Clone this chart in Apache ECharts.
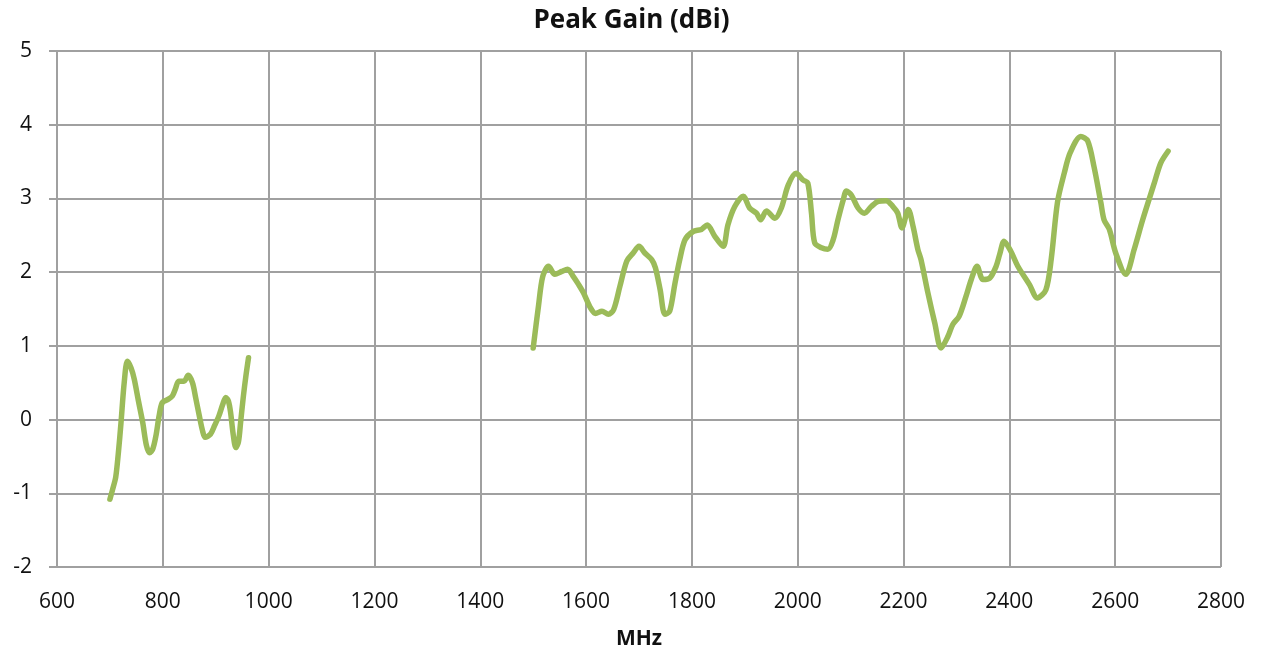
<!DOCTYPE html>
<html>
<head>
<meta charset="utf-8">
<script src="https://cdn.jsdelivr.net/npm/echarts@6/dist/echarts.min.js"></script>
<style>
  html, body { margin: 0; padding: 0; background: #fff; }
  #main { width: 1263px; height: 655px; }
</style>
</head>
<body>
<div id="main"></div>
<script>
// low band, 700-960 MHz
var lowFreq = [700, 705, 711, 716, 721, 727, 733, 740, 746, 754, 762, 769, 775, 781, 787, 793, 799, 809, 818, 824,
  830, 840, 848, 856, 862, 869, 875, 880, 890, 898, 906, 913, 919, 924, 928, 933, 938, 943, 947, 952, 957, 962];
var lowGain = [-1.08, -0.95, -0.78, -0.45, -0.04, 0.5, 0.79, 0.7, 0.55, 0.25, -0.04, -0.35, -0.45, -0.4, -0.22, 0.05, 0.23, 0.27, 0.32, 0.42,
  0.52, 0.52, 0.6, 0.5, 0.3, 0.05, -0.15, -0.24, -0.2, -0.08, 0.05, 0.2, 0.3, 0.25, 0.1, -0.2, -0.38, -0.3, -0.04, 0.3, 0.59, 0.84];

// high band, 1500-2700 MHz
var highFreq = [1500, 1510, 1518, 1529, 1541, 1554, 1565, 1576, 1586, 1595, 1608, 1618, 1630, 1642, 1652, 1664, 1677, 1689, 1700, 1711,
  1724, 1731, 1740, 1749, 1758, 1768, 1777, 1787, 1802, 1818, 1829, 1843, 1859, 1868, 1881, 1897, 1909, 1922, 1930, 1941,
  1957, 1969, 1982, 1997, 2010, 2019, 2026, 2032, 2045, 2057, 2067, 2076, 2086, 2092, 2101, 2114, 2126, 2139, 2152, 2167,
  2180, 2189, 2197, 2209, 2218, 2227, 2233, 2246, 2259, 2271, 2284, 2293, 2305, 2318, 2328, 2339, 2350, 2363, 2375, 2382,
  2390, 2403, 2416, 2438, 2453, 2469, 2479, 2491, 2504, 2515, 2535, 2548, 2560, 2573, 2579, 2589, 2601, 2620, 2636, 2652,
  2674, 2686, 2700];
var highGain = [0.97, 1.54, 1.94, 2.08, 1.97, 2.01, 2.04, 1.94, 1.83, 1.72, 1.52, 1.44, 1.47, 1.43, 1.49, 1.81, 2.15, 2.26, 2.35, 2.26,
  2.17, 2.06, 1.76, 1.43, 1.47, 1.85, 2.17, 2.44, 2.55, 2.58, 2.64, 2.49, 2.35, 2.64, 2.89, 3.03, 2.87, 2.8, 2.71, 2.83,
  2.73, 2.87, 3.18, 3.34, 3.25, 3.21, 2.8, 2.4, 2.33, 2.31, 2.44, 2.71, 2.98, 3.1, 3.05, 2.87, 2.8, 2.89, 2.96, 2.97,
  2.89, 2.8, 2.6, 2.85, 2.62, 2.31, 2.17, 1.72, 1.31, 0.97, 1.13, 1.29, 1.4, 1.67, 1.9, 2.08, 1.9, 1.92, 2.08, 2.25,
  2.42, 2.28, 2.08, 1.83, 1.65, 1.76, 2.17, 2.95, 3.35, 3.62, 3.84, 3.78, 3.43, 2.94, 2.71, 2.58, 2.26, 1.97, 2.31, 2.71,
  3.21, 3.48, 3.64];

function pairs(xs, ys) {
  var out = [];
  for (var i = 0; i < xs.length; i++) out.push([xs[i], ys[i]]);
  return out;
}

var myChart = echarts.init(document.getElementById('main'));
var gridColor = '#a0a0a0';
var font = 'Open Sans';

var option = {
  backgroundColor: '#fff',
  animation: false,
  title: {
    text: 'Peak Gain (dBi)',
    left: 'center',
    top: 3,
    textStyle: { fontFamily: font, fontSize: 26, fontWeight: 'bold', color: '#111' }
  },
  grid: { left: 57, right: 42, top: 51, bottom: 87 },
  xAxis: {
    type: 'value',
    min: 600, max: 2800, interval: 200,
    name: 'MHz',
    nameLocation: 'middle',
    nameGap: 62,
    nameTextStyle: { fontFamily: font, fontSize: 21, fontWeight: 'bold', color: '#111' },
    axisLine: { show: true, lineStyle: { color: gridColor, width: 2 } },
    axisTick: { show: true, inside: false, length: 8, lineStyle: { color: gridColor, width: 2 } },
    axisLabel: { margin: 25, fontFamily: font, fontSize: 21, color: '#111',
      formatter: function (v) { return String(v); } },
    splitLine: { show: true, lineStyle: { color: gridColor, width: 2 } }
  },
  yAxis: {
    type: 'value',
    min: -2, max: 5, interval: 1,
    axisLine: { show: true, lineStyle: { color: gridColor, width: 2 } },
    axisTick: { show: true, inside: false, length: 8, lineStyle: { color: gridColor, width: 2 } },
    axisLabel: { margin: 25, fontFamily: font, fontSize: 21, color: '#111' },
    splitLine: { show: true, lineStyle: { color: gridColor, width: 2 } }
  },
  series: [
    {
      name: 'low', type: 'line', smooth: 0.3, showSymbol: false,
      data: pairs(lowFreq, lowGain),
      lineStyle: { color: '#9bbb59', width: 5.5, cap: 'round', join: 'round' }
    },
    {
      name: 'high', type: 'line', smooth: 0.3, showSymbol: false,
      data: pairs(highFreq, highGain),
      lineStyle: { color: '#9bbb59', width: 5.5, cap: 'round', join: 'round' }
    }
  ]
};

option && myChart.setOption(option);
</script>
</body>
</html>
